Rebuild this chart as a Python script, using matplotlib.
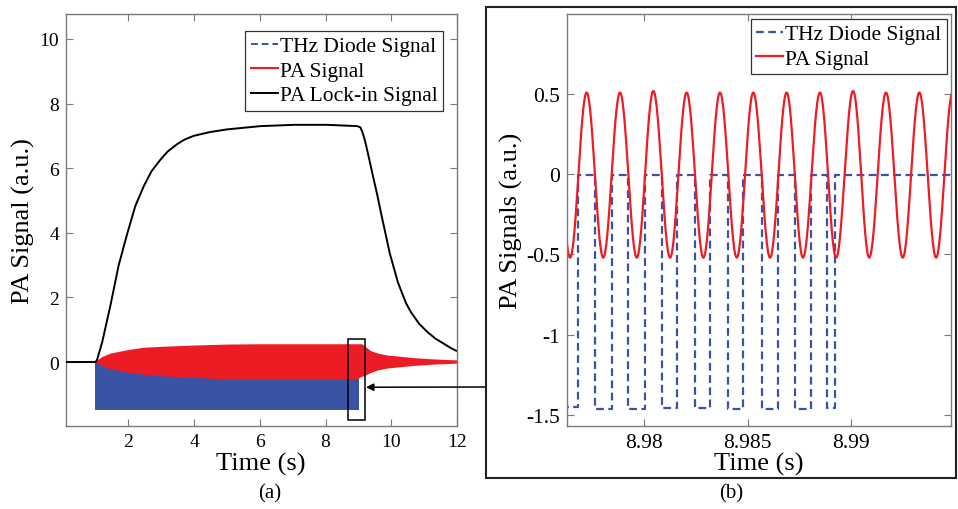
import numpy as np
import matplotlib
matplotlib.use("Agg")
import matplotlib.pyplot as plt
from matplotlib.lines import Line2D
from matplotlib.patches import Rectangle

plt.rcParams['font.family'] = ['Liberation Serif', 'DejaVu Serif']

BLUE = '#3a53a4'
RED = '#ed1c24'
FRAME = '#7a7a7a'

# -------------------------------
# (a) whole record
# -------------------------------
lockin_t = [0.1, 1.0, 1.05, 1.2, 1.45, 1.7, 1.96, 2.21, 2.47, 2.7, 2.98, 3.2,
            3.48, 3.7, 3.99, 4.5, 5.01, 6.02, 7.04, 8.06, 8.97, 9.06, 9.12,
            9.2, 9.33, 9.45, 9.58, 9.7, 9.84, 9.95, 10.09, 10.2, 10.34, 10.45,
            10.6, 10.85, 11.11, 11.35, 11.61, 11.8, 11.97]
lockin_v = [0, 0, 0.08, 0.61, 1.74, 2.98, 3.96, 4.83, 5.45, 5.9, 6.27, 6.52,
            6.74, 6.88, 7.0, 7.12, 7.2, 7.3, 7.34, 7.34, 7.3, 7.26, 7.12,
            6.85, 6.27, 5.72, 5.14, 4.55, 3.9, 3.38, 2.87, 2.47, 2.1, 1.82,
            1.54, 1.18, 0.92, 0.72, 0.56, 0.44, 0.35]

# envelope of the PA oscillation (too dense to resolve single cycles)
pa_top_t = [1.0, 1.2, 1.45, 2.0, 2.46, 3.0, 4.0, 5.0, 6.0, 9.12, 9.2, 9.38,
            9.6, 9.9, 10.7, 11.3, 12.0]
pa_top_v = [0, 0.15, 0.26, 0.37, 0.44, 0.47, 0.51, 0.54, 0.55, 0.55, 0.48, 0.34,
            0.26, 0.20, 0.12, 0.08, 0.05]
pa_bot_t = [1.0, 1.2, 1.45, 2.0, 2.46, 3.0, 4.0, 4.8, 6.0, 9.0, 9.05, 9.2,
            9.38, 9.6, 9.9, 10.7, 11.3, 12.0]
pa_bot_v = [0, -0.12, -0.22, -0.33, -0.39, -0.44, -0.49, -0.53, -0.55, -0.55,
            -0.48, -0.43, -0.34, -0.26, -0.20, -0.12, -0.08, -0.05]

# THz diode square wave band
diode_t = [0.98, 9.01]
diode_low = [-1.47, -1.47]
diode_high = [0.0, 0.0]

# zoom window marked in (a)
zoom_t = (8.69, 9.19)
zoom_v = (-1.78, 0.71)

# -------------------------------
# (b) zoom around 8.98 s
# -------------------------------
# alternating peaks / troughs of the PA signal
pa_ext_t = [8.97562, 8.97643, 8.97723, 8.97803, 8.97884, 8.97965, 8.98045,
            8.98126, 8.98206, 8.98287, 8.98367, 8.98448, 8.98528, 8.98609,
            8.98689, 8.98768, 8.98850, 8.98928, 8.99010, 8.99088, 8.99169,
            8.99250, 8.99330, 8.99411, 8.99491]
pa_ext_v = [0.51, -0.52, 0.51, -0.52, 0.51, -0.52, 0.52, -0.52, 0.51, -0.52,
            0.51, -0.52, 0.51, -0.52, 0.51, -0.52, 0.51, -0.52, 0.52, -0.52,
            0.51, -0.52, 0.51, -0.52, 0.51]

# diode edges
rise_t = [8.97683, 8.97844, 8.98005, 8.98158, 8.98319, 8.98480, 8.98649,
          8.98805, 8.98923]
fall_t = [8.97763, 8.97924, 8.98086, 8.98246, 8.98407, 8.98569, 8.98730,
          8.98883]
low_v = [-1.45, -1.465, -1.465, -1.46, -1.46, -1.465, -1.465, -1.465, -1.46]
high_v = -0.005


def smooth_join(t, v, n=30):
    """join alternating extremes with half-cosine pieces"""
    xs, ys = [], []
    for i in range(len(t) - 1):
        s = np.linspace(0, 1, n, endpoint=False)
        xs.append(t[i] + (t[i + 1] - t[i]) * s)
        ys.append(v[i] + (v[i + 1] - v[i]) * (1 - np.cos(np.pi * s)) / 2)
    xs.append([t[-1]])
    ys.append([v[-1]])
    return np.concatenate(xs), np.concatenate(ys)


def square_wave(rise, fall, low, high, t0, t1):
    xs, ys = [t0], [low[0]]
    for i, r in enumerate(rise):
        xs += [r, r]
        ys += [low[i], high]
        if i < len(fall):
            xs += [fall[i], fall[i]]
            ys += [high, low[i + 1]]
    xs.append(t1)
    ys.append(high)
    return xs, ys


def style_axes(ax, size):
    for sp in ax.spines.values():
        sp.set_color(FRAME)
        sp.set_linewidth(1.0)
    ax.tick_params(direction='in', length=5, width=0.8, color=FRAME,
                   top=True, right=True, labelsize=size, pad=5,
                   labelcolor='black')


fig = plt.figure(figsize=(9.58, 5.1), dpi=100)
W, H = 958.0, 510.0

ax1 = fig.add_axes([66 / W, 1 - 427 / H, 391 / W, 412 / H])
ax2 = fig.add_axes([567 / W, 1 - 427 / H, 384 / W, 412 / H])

# ---- (a) ----
ax1.fill_between(diode_t, diode_low, diode_high, color=BLUE, lw=0, zorder=1)
ax1.fill(np.r_[pa_top_t, pa_bot_t[::-1]], np.r_[pa_top_v, pa_bot_v[::-1]],
         color=RED, lw=0, zorder=2)
ax1.plot(lockin_t, lockin_v, color='black', lw=1.4, zorder=3)
ax1.add_patch(Rectangle((zoom_t[0], zoom_v[0]), zoom_t[1] - zoom_t[0],
                        zoom_v[1] - zoom_v[0], fill=False, ec='black',
                        lw=1.1, zorder=4))

ax1.set_xlim(0.1, 12.0)
ax1.set_ylim(-1.98, 10.77)
ax1.set_xticks([2, 4, 6, 8, 10, 12])
ax1.set_yticks([0, 2, 4, 6, 8, 10])
style_axes(ax1, 14)

handles_a = [Line2D([], [], color=BLUE, lw=1.4, ls=(0, (3.5, 2))),
             Line2D([], [], color=RED, lw=1.5),
             Line2D([], [], color='black', lw=1.4)]
leg1 = ax1.legend(handles_a, ['THz Diode Signal', 'PA Signal', 'PA Lock-in Signal'],
                  loc='upper right', bbox_to_anchor=(443 / W, 1 - 32 / H),
                  bbox_transform=fig.transFigure, borderaxespad=0,
                  fontsize=15.5, handlelength=1.25, handletextpad=0.1,
                  labelspacing=0.2, borderpad=0.25, fancybox=False,
                  framealpha=1, edgecolor='#333333')
leg1.get_frame().set_linewidth(0.9)

# ---- (b) ----
rx, ry = smooth_join(pa_ext_t, pa_ext_v)
bx, by = square_wave(rise_t, fall_t, low_v, high_v, 8.9760, 8.9950)
ax2.plot(bx, by, color=BLUE, lw=1.6, ls=(0, (3.5, 2)), label='THz Diode Signal')
ax2.plot(rx, ry, color=RED, lw=1.6, label='PA Signal')

ax2.set_xlim(8.97628, 8.99483)
ax2.set_ylim(-1.57, 1.0)
ax2.set_xticks([8.98, 8.985, 8.99])
ax2.set_xticklabels(['8.98', '8.985', '8.99'])
ax2.set_yticks([-1.5, -1, -0.5, 0, 0.5])
ax2.set_yticklabels(['-1.5', '-1', '-0.5', '0', '0.5'])
style_axes(ax2, 15.5)

leg2 = ax2.legend(loc='upper right', bbox_to_anchor=(947 / W, 1 - 20 / H),
                  bbox_transform=fig.transFigure, borderaxespad=0,
                  fontsize=15.5, handlelength=1.25, handletextpad=0.1,
                  labelspacing=0.2, borderpad=0.25, fancybox=False,
                  framealpha=1, edgecolor='#333333')
leg2.get_frame().set_linewidth(0.9)

# labels
fig.text(23 / W, 1 - 221 / H, 'PA Signal (a.u.)', rotation=90,
         ha='center', va='center', fontsize=19)
fig.text(511 / W, 1 - 221 / H, 'PA Signals (a.u.)', rotation=90,
         ha='center', va='center', fontsize=19)
fig.text(261 / W, 1 - 464 / H, 'Time (s)', ha='center', va='center', fontsize=19)
fig.text(759 / W, 1 - 464 / H, 'Time (s)', ha='center', va='center', fontsize=19)
fig.text(270 / W, 1 - 494 / H, '(a)', ha='center', va='center', fontsize=15)
fig.text(731 / W, 1 - 494 / H, '(b)', ha='center', va='center', fontsize=15)

# frame around (b) and arrow from it to the marked window
fig.add_artist(Rectangle((486 / W, 1 - 479 / H), (956 - 486) / W, (479 - 8) / H,
                         transform=fig.transFigure, fill=False,
                         ec='#222222', lw=1.5))
ax1.annotate('', xy=(9.23, -0.78), xycoords='data',
             xytext=(486 / W, 1 - 388 / H), textcoords='figure fraction',
             arrowprops=dict(arrowstyle='-|>', color='black', lw=1.1,
                             mutation_scale=11, shrinkA=0, shrinkB=0),
             annotation_clip=False)

fig.savefig('out.png', dpi=100)
